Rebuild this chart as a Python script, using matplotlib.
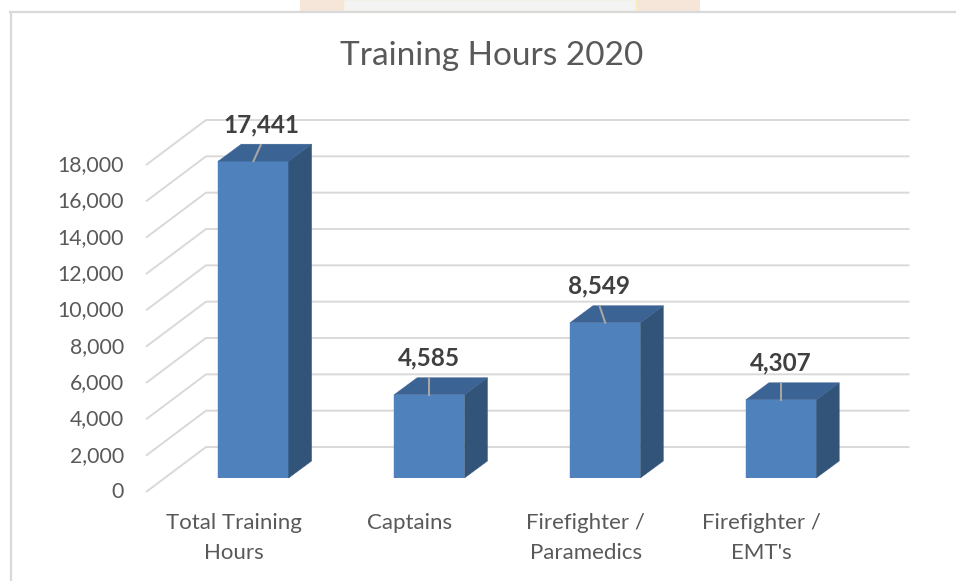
import matplotlib
matplotlib.use("Agg")
import matplotlib.pyplot as plt
from matplotlib.patches import Polygon, Rectangle
from matplotlib.lines import Line2D

# ---- data ----
categories = ["Total Training\nHours", "Captains", "Firefighter /\nParamedics", "Firefighter /\nEMT's"]
values = [17441, 4585, 8549, 4307]
yticks = list(range(0, 18001, 2000))
title = "Training Hours 2020"

# ---- style ----
W, H = 956, 581
FONT = ["Lato", "DejaVu Sans"]
plt.rcParams['font.family'] = FONT
FRONT = "#4F81BD"
SIDE = "#325479"
TOP = "#3B6394"
GRID = "#D9D9D9"
TXT = "#595959"
LBL = "#404040"

fig = plt.figure(figsize=(W / 100, H / 100), dpi=100)
fig.patch.set_facecolor("white")

# faint watermark strip + chart border
fig.add_artist(Rectangle((300 / W, 1 - 11 / H), 400 / W, 11 / H, transform=fig.transFigure,
                         facecolor="#F6E6DA", edgecolor="none", zorder=0))
fig.add_artist(Rectangle((343 / W, 1 - 11 / H), 293 / W, 12 / H, transform=fig.transFigure,
                         facecolor="#F3F3F3", edgecolor="#F6EDB8", lw=1.0, zorder=0))
fig.add_artist(Line2D([10 / W, 1], [1 - 12 / H] * 2, transform=fig.transFigure, color=GRID, lw=1.6))
fig.add_artist(Line2D([11 / W] * 2, [0, 1 - 12 / H], transform=fig.transFigure, color=GRID, lw=1.6))

# plot plane = front face of bars
x_left_px, x_right_px = 165.5, 869.0
y0_px, ytop_px = 478.0, 151.0
ax = fig.add_axes([x_left_px / W, 1 - y0_px / H, (x_right_px - x_left_px) / W, (y0_px - ytop_px) / H])
ax.set_xlim(-0.5, 3.5)
ax.set_ylim(0, 18000)
ax.axis("off")

ux = 4.0 / (x_right_px - x_left_px)      # data x per pixel
uy = 18000.0 / (y0_px - ytop_px)         # data y per pixel

# front / back plane offsets (pixels, up positive)
fx, fy = -19.5, -14.0
bx, by = 40.5, 31.0
xa, xb = -0.5, 3.5

for v in yticks:
    ax.plot([xa + fx * ux, xa + bx * ux, xb + bx * ux],
            [v + fy * uy, v + by * uy, v + by * uy],
            color=GRID, lw=1.4, clip_on=False, zorder=0, solid_capstyle="butt")
    ax.text(xa + fx * ux - 22 * ux, v + fy * uy, f"{v:,}", ha="right", va="center",
            fontsize=15.3, color=TXT)

# bars
xs = list(range(len(values)))
bw = 0.4
dpx, dpy = 23 * ux, 17 * uy
ax.bar(xs, values, width=bw, color=FRONT, zorder=3, edgecolor=FRONT, linewidth=0.3)
for x, v in zip(xs, values):
    r = x + bw / 2
    l = x - bw / 2
    ax.add_patch(Polygon([(r, 0), (r + dpx, dpy), (r + dpx, v + dpy), (r, v)],
                         closed=True, facecolor=SIDE, edgecolor=SIDE, lw=0.3, zorder=3, clip_on=False))
    ax.add_patch(Polygon([(l, v), (r, v), (r + dpx, v + dpy), (l + dpx, v + dpy)],
                         closed=True, facecolor=TOP, edgecolor=TOP, lw=0.3, zorder=3, clip_on=False))

# data labels with leader lines
label_shift = [8, 0, -6, 0]
for x, v, s in zip(xs, values, label_shift):
    ax.plot([x, x + s * ux * 0.9], [v, v + 16 * uy],
            color="#A6A6A6", lw=1.5, zorder=4, clip_on=False)
    ax.text(x + s * ux, v + 29 * uy, f"{v:,}", ha="center", va="baseline", fontsize=17.5,
            fontweight="bold", color=LBL, zorder=5)

# category labels
for x, c in zip(xs, categories):
    ax.text(x + fx * ux, fy * uy - 21 * uy, c, ha="center", va="top", fontsize=16,
            color=TXT, linespacing=1.62)

fig.text(492 / W, 1 - 56 / H, title, ha="center", va="center", fontsize=24, color=TXT)

fig.savefig("out.png", dpi=100, facecolor="white")
